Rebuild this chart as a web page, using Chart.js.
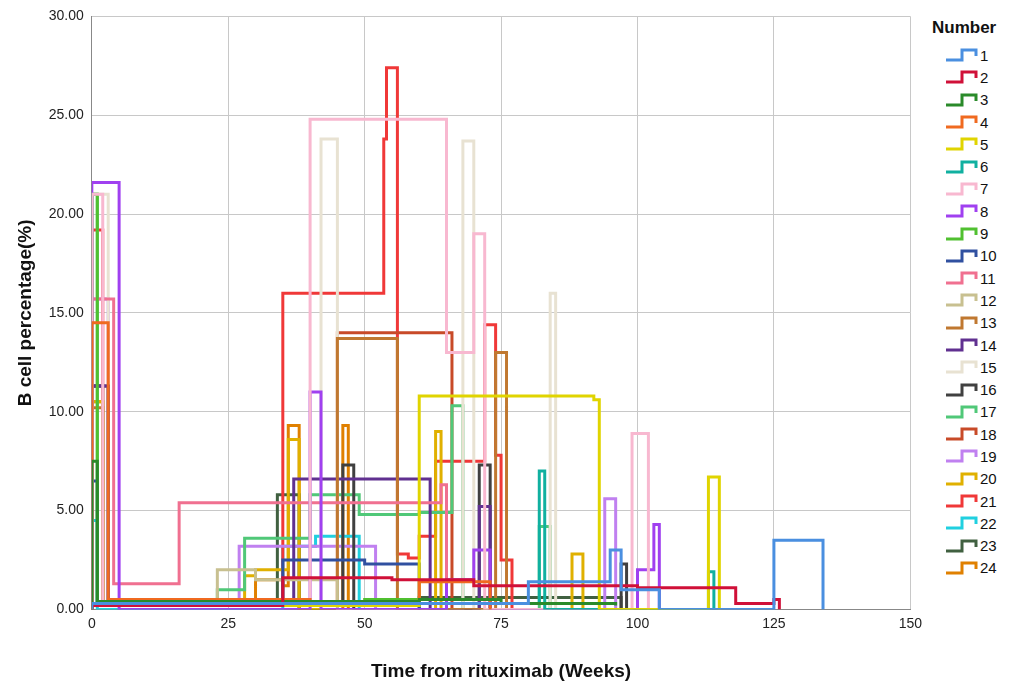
<!DOCTYPE html>
<html><head><meta charset="utf-8">
<script src="https://cdn.jsdelivr.net/npm/chart.js@4"></script>
<style>
body{margin:0;background:#fff;font-family:Arial,"Liberation Sans",sans-serif}
#wrap{position:absolute;left:0;top:0;width:928px;height:691px}
#legend{position:absolute;left:932px;top:18px;font-size:15px;color:#111}
#legend .t{font-weight:bold;font-size:17px;margin-bottom:6px}
#legend .r{height:22.3px;display:flex;align-items:center;padding-left:12px}
#legend svg{margin-right:2px}
</style></head><body>
<div id="wrap"><canvas id="c"></canvas></div>
<div id="legend"><div class="t">Number</div></div>
<script>
const colors = ['#4a8fe0','#d01038','#2a8a2a','#f06a20','#e0d400','#10b0a0','#f8b8d0','#a040f0','#50c030','#3050a0',
  '#f07090','#c8c090','#c07830','#603090','#e8e2d2','#404040','#50c878','#c84a28','#c080f0','#e0b000',
  '#f03838','#20d0e0','#406040','#e08000'];
// each series: [week, value] pairs, value holds from that week until the next pair
const s1 = [[0,0.3],[22,0.3],[80,1.4],[95,3],[97,1],[104,0],[125,3.5],[134,0]];
const s2 = [[0,0.2],[35,1.6],[55,1.5],[70,1.2],[100,1.1],[118,0.3],[125,0.5],[126,0]];
const s3 = [[0,7.5],[1,0.4],[60,0.5],[75,0.3],[96,0.2]];
const s4 = [[0,14.5],[3,0.5],[40,0.3],[60,1.4],[73,0]];
const s5 = [[0,0.2],[60,10.8],[84,10.8],[92,10.6],[93,0],[113,6.7],[115,0]];
const s6 = [[0,0.2],[60,0.3],[82,7],[83,0],[113,1.9],[114,0]];
const s7 = [[0,21],[2,0.2],[40,24.8],[65,13],[70,19],[72,0],[99,8.9],[102,0]];
const s8 = [[0,21.6],[5,0],[40,11],[42,0],[65,1.5],[70,3],[73,0],[100,2],[103,4.3],[104,0]];
const s9 = [[0,21],[1,0.2],[30,0.3],[50,0.5],[65,0]];
const s10 = [[0,6.5],[1,0.3],[35,2.5],[50,2.3],[60,0]];
const s11 = [[0,15.7],[4,1.3],[16,5.4],[40,5.4],[55,5.4],[64,6.3],[65,0]];
const s12 = [[0,0.3],[23,2],[30,1.5],[45,0]];
const s13 = [[0,10.2],[2,0.3],[45,13.7],[55,13.7],[56,0],[74,13],[76,0]];
const s14 = [[0,11.3],[3,0.2],[37,6.6],[61,6.6],[62,0],[71,5.2],[73,0]];
const s15 = [[0,21],[3,0.2],[42,23.8],[45,0],[68,23.7],[70,0],[84,16],[85,0]];
const s16 = [[0,11.3],[3,0.3],[46,7.3],[48,0],[71,7.3],[73,0],[97,2.3],[98,0]];
const s17 = [[0,21],[1,0.3],[23,1],[28,3.6],[40,5.8],[49,4.8],[60,4.9],[66,10.3],[68,0],[82,4.2],[84,0]];
const s18 = [[0,0.2],[35,0.3],[45,14],[65,14],[66,0]];
const s19 = [[0,15.7],[3,0.3],[27,3.2],[47,3.2],[52,0],[94,5.6],[96,0]];
const s20 = [[0,10.5],[2,0.2],[28,1.7],[30,2],[36,8.6],[38,0],[63,9],[64,0],[88,2.8],[90,0]];
const s21 = [[0,19.2],[2,0.2],[35,16],[53,16],[53.5,23.8],[54,27.4],[56,2.8],[58,2.6],[60,3.7],[63,7.5],[72,14.4],[74,7.8],[75,2.5],[77,0]];
const s22 = [[0,4.5],[1,0],[35,3.2],[41,3.7],[48,3.7],[49,0]];
const s23 = [[0,11.3],[2,0.2],[34,5.8],[38,0],[60,0.6],[76,0.6],[96,0.6],[97,0]];
const s24 = [[0,10.5],[2,0.3],[30,1.5],[35,1.2],[36,9.3],[38,0],[46,9.3],[47,0]];
const series = [s1,s2,s3,s4,s5,s6,s7,s8,s9,s10,s11,s12,s13,s14,s15,s16,s17,s18,s19,s20,s21,s22,s23,s24];

const datasets = series.map((s, i) => {
  // hold each value until the next pair's week
  let pts = [{x: 0, y: 0}];
  s.forEach((p, j) => {
    let end = j + 1 < s.length ? s[j + 1][0] : p[0];
    pts.push({x: p[0], y: p[1]});
    pts.push({x: end, y: p[1]});
  });
  return {
    label: String(i + 1),
    data: pts,
    borderColor: colors[i],
    borderWidth: 3,
    stepped: 'before',
    pointRadius: 0,
    fill: false
  };
});

new Chart(document.getElementById('c'), {
  type: 'line',
  data: {datasets: datasets},
  options: {
    responsive: true, maintainAspectRatio: false, animation: false,
    layout: {padding: {top: 2, right: 6, bottom: 4, left: 10}},
    plugins: {legend: {display: false}, tooltip: {enabled: false}},
    scales: {
      x: {type: 'linear', min: 0, max: 150,
        ticks: {stepSize: 25, color: '#222', font: {size: 14}, padding: 6},
        grid: {color: '#c8c8c8', drawTicks: false}, border: {color: '#888'},
        title: {display: true, text: 'Time from rituximab (Weeks)', font: {size: 19, weight: 'bold'}, color: '#111', padding: {top: 22}}},
      y: {min: 0, max: 30,
        ticks: {stepSize: 5, color: '#222', font: {size: 14}, callback: v => v.toFixed(2), padding: 8},
        grid: {color: '#c8c8c8', drawTicks: false}, border: {color: '#888'},
        title: {display: true, text: 'B cell percentage(%)', font: {size: 19, weight: 'bold'}, color: '#111'}}
    }
  }
});

const lg = document.getElementById('legend');
colors.forEach((c, i) => {
  const r = document.createElement('div'); r.className = 'r';
  r.innerHTML = '<svg width="34" height="16"><polyline points="2,13 18,13 18,3 32,3 32,9" fill="none" stroke="' + c + '" stroke-width="3"/></svg>' + (i + 1);
  lg.appendChild(r);
});
</script>
</body></html>
